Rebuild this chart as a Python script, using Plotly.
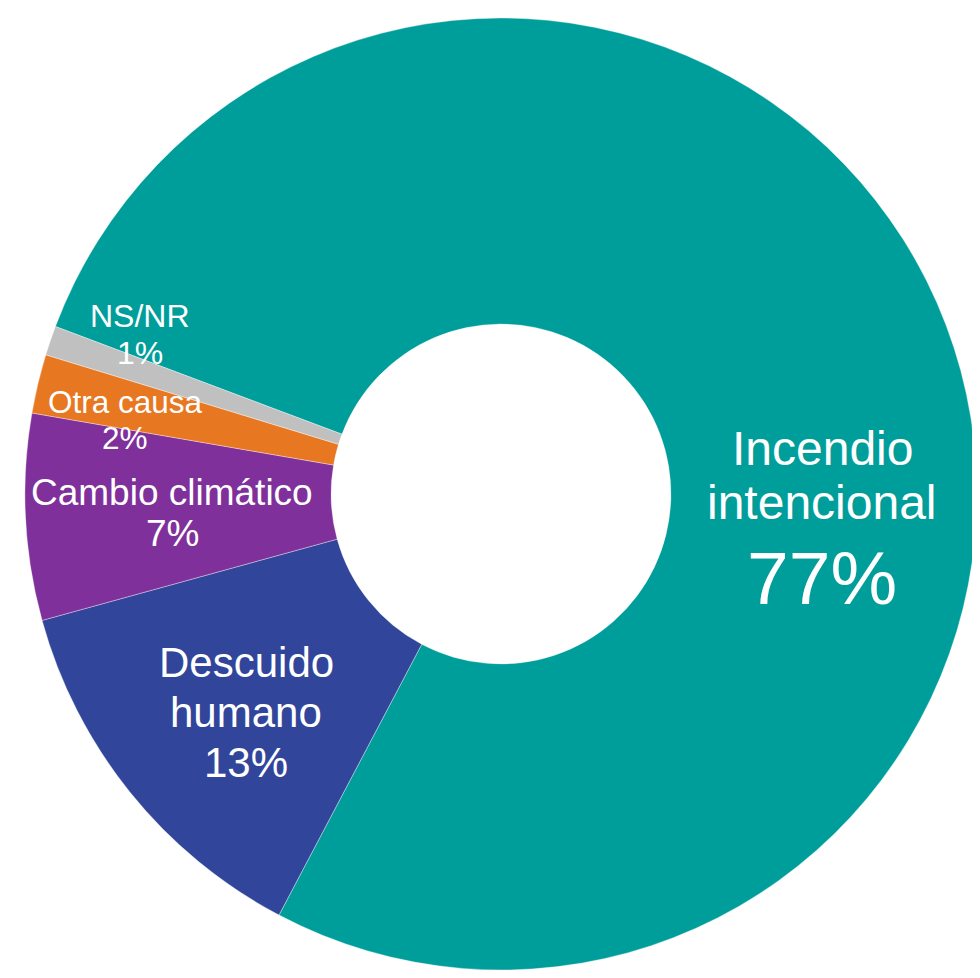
import plotly.graph_objects as go

# datos
causas = ["Incendio intencional", "Descuido humano", "Cambio climático", "Otra causa", "NS/NR"]
porcentajes = [77, 13, 7, 2, 1]
colores = ["#009E9B", "#31469B", "#80309A", "#E87722", "#C0C0C0"]

# la página tiene 8 px de margen en el body; se evita el scroll vertical
OFF = 8
W, H = 980 - OFF, 978 - 2 * OFF

fig = go.Figure(go.Pie(
    labels=causas,
    values=porcentajes,
    sort=False,
    direction="clockwise",
    rotation=-69.4,
    hole=0.357,
    marker=dict(colors=colores, line=dict(color="rgba(255,255,255,0.6)", width=0.6)),
    textinfo="none",
    hoverinfo="label+percent",
    domain=dict(x=[14 / W, 1], y=[0, 1 - 10 / H]),
    showlegend=False,
))

# etiquetas: (líneas, centro x px, centros y px, tamaños) en px de la página
etiquetas = [
    (["Incendio", "intencional", f"{porcentajes[0]}%"], 822, [448, 503, 578], [48, 48, 75]),
    (["Descuido", "humano", f"{porcentajes[1]}%"], 246, [662, 712, 762], [42, 42, 42]),
    (["Cambio climático", f"{porcentajes[2]}%"], 172, [492, 533], [37, 37]),
    (["Otra causa", f"{porcentajes[3]}%"], 125, [402, 438], [31.5, 31.5]),
    (["NS/NR", f"{porcentajes[4]}%"], 140, [316, 353], [32, 32]),
]

for lineas, cx, ys, tams in etiquetas:
    for txt, cy, tam in zip(lineas, ys, tams):
        fig.add_annotation(
            x=(cx - OFF) / W, y=1 - (cy - OFF) / H, xref="paper", yref="paper",
            text=txt, showarrow=False, xanchor="center", yanchor="middle",
            font=dict(family="Liberation Sans, Arial, sans-serif", size=tam, color="white"),
        )

fig.update_layout(
    width=W, height=H,
    margin=dict(l=0, r=0, t=0, b=0),
    paper_bgcolor="white",
    plot_bgcolor="white",
)

fig.write_html("out.html")
